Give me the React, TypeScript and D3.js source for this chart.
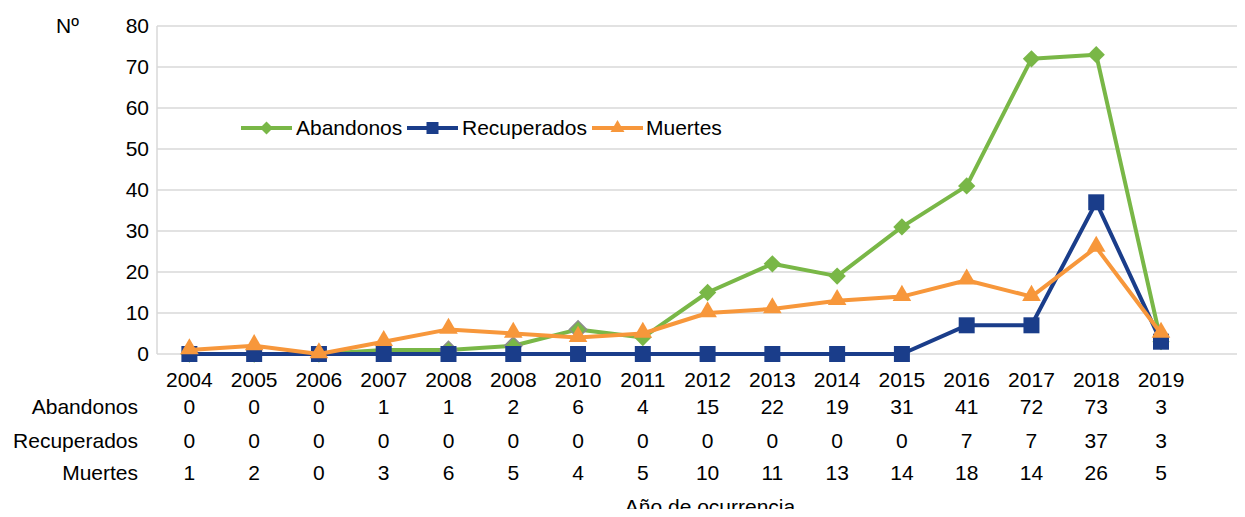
import React, { useEffect, useRef } from "react";
import * as d3 from "d3";

const years = ["2004", "2005", "2006", "2007", "2008", "2008", "2010", "2011", "2012", "2013", "2014", "2015", "2016", "2017", "2018", "2019"];
const abandonos = [0, 0, 0, 1, 1, 2, 6, 4, 15, 22, 19, 31, 41, 72, 73, 3];
const recuperados = [0, 0, 0, 0, 0, 0, 0, 0, 0, 0, 0, 0, 7, 7, 37, 3];
const muertes = [1, 2, 0, 3, 6, 5, 4, 5, 10, 11, 13, 14, 18, 14, 26, 5];
const yTicks = [0, 10, 20, 30, 40, 50, 60, 70, 80];
// diamonds that carry a grey outline in the original
const outlined = [4, 5, 6];

const series = [
  { name: "Abandonos", values: abandonos, color: "#79b747", shape: "diamond" },
  { name: "Recuperados", values: recuperados, color: "#1a3d8a", shape: "square" },
  { name: "Muertes", values: muertes, color: "#f7973b", shape: "triangle" },
];

const App = () => {
  const ref = useRef<HTMLDivElement>(null);

  useEffect(() => {
    const W = 1245;
    const H = 517;
    const font = "'Liberation Sans', Arial, sans-serif";

    d3.select(ref.current).select("svg").remove();

    const svg = d3
      .select(ref.current)
      .append("svg")
      .attr("width", W)
      .attr("height", H)
      .style("display", "block")
      .style("font-family", font)
      .style("font-size", "21px");

    const x = d3
      .scaleBand<number>()
      .domain(d3.range(years.length))
      .range([157, 1193.4]);
    const cx = (i: number) => (x(i) as number) + x.bandwidth() / 2;
    const y = d3.scaleLinear().domain([0, 80]).range([354, 26]);

    // gridlines
    svg
      .append("g")
      .selectAll("line")
      .data(yTicks)
      .join("line")
      .attr("x1", 157)
      .attr("x2", W)
      .attr("y1", (d) => y(d))
      .attr("y2", (d) => y(d))
      .attr("stroke", "#d9d9d9")
      .attr("stroke-width", 1.5);

    svg
      .append("line")
      .attr("x1", 157)
      .attr("x2", 157)
      .attr("y1", y(80))
      .attr("y2", y(0))
      .attr("stroke", "#d9d9d9")
      .attr("stroke-width", 1.5);

    // y labels
    svg
      .append("g")
      .selectAll("text")
      .data(yTicks)
      .join("text")
      .attr("x", 149)
      .attr("y", (d) => y(d))
      .attr("dy", "0.35em")
      .attr("text-anchor", "end")
      .text((d) => d);

    svg.append("text").attr("x", 56).attr("y", 33).text("Nº");

    const symbolFor = (shape: string) => {
      if (shape === "diamond") return d3.symbol(d3.symbolSquare, 150)();
      if (shape === "square") return d3.symbol(d3.symbolSquare, 256)();
      return d3.symbol(d3.symbolTriangle, 150)();
    };
    const rot = (shape: string) => (shape === "diamond" ? " rotate(45)" : "");

    const line = d3
      .line<number>()
      .x((d, i) => cx(i))
      .y((d) => y(d));

    series.forEach((s) => {
      const g = svg.append("g");
      g.append("path")
        .attr("d", line(s.values))
        .attr("fill", "none")
        .attr("stroke", s.color)
        .attr("stroke-width", 4)
        .attr("stroke-linejoin", "round");
      g.selectAll("path.m")
        .data(s.values)
        .join("path")
        .attr("class", "m")
        .attr("d", symbolFor(s.shape))
        .attr("transform", (d, i) => `translate(${cx(i)},${y(d) + (s.shape === "triangle" ? -1 : 0)})${rot(s.shape)}`)
        .attr("fill", s.color)
        .attr("stroke", (d, i) => (s.shape === "diamond" && outlined.includes(i) ? "#8c8c8c" : "none"))
        .attr("stroke-width", 1.5);
    });

    // legend
    const legendItems = [
      { x: 241, tx: 296 },
      { x: 407, tx: 462 },
      { x: 592, tx: 646 },
    ];
    series.forEach((s, i) => {
      const L = legendItems[i];
      const g = svg.append("g");
      g.append("line")
        .attr("x1", L.x)
        .attr("x2", L.x + 51)
        .attr("y1", 128)
        .attr("y2", 128)
        .attr("stroke", s.color)
        .attr("stroke-width", 4);
      g.append("path")
        .attr("d", symbolFor(s.shape))
        .attr("transform", `translate(${L.x + 25.5},128) scale(0.75)${rot(s.shape)}`)
        .attr("fill", s.color);
      g.append("text")
        .attr("x", L.tx)
        .attr("y", 128)
        .attr("dy", "0.35em")
        .text(s.name);
    });

    // data table
    svg
      .append("g")
      .selectAll("text")
      .data(years)
      .join("text")
      .attr("x", (d, i) => cx(i))
      .attr("y", 380)
      .attr("dy", "0.35em")
      .attr("text-anchor", "middle")
      .text((d) => d);

    const rowY = [407, 441, 473];
    series.forEach((s, r) => {
      svg
        .append("text")
        .attr("x", 138)
        .attr("y", rowY[r])
        .attr("dy", "0.35em")
        .attr("text-anchor", "end")
        .text(s.name);
      svg
        .append("g")
        .selectAll("text")
        .data(s.values)
        .join("text")
        .attr("x", (d, i) => cx(i))
        .attr("y", rowY[r])
        .attr("dy", "0.35em")
        .attr("text-anchor", "middle")
        .text((d) => d);
    });

    svg
      .append("text")
      .attr("x", 710)
      .attr("y", 514)
      .attr("text-anchor", "middle")
      .text("Año de ocurrencia");
  }, []);

  return <div ref={ref} style={{ margin: -8 }}></div>;
};

export default App;
